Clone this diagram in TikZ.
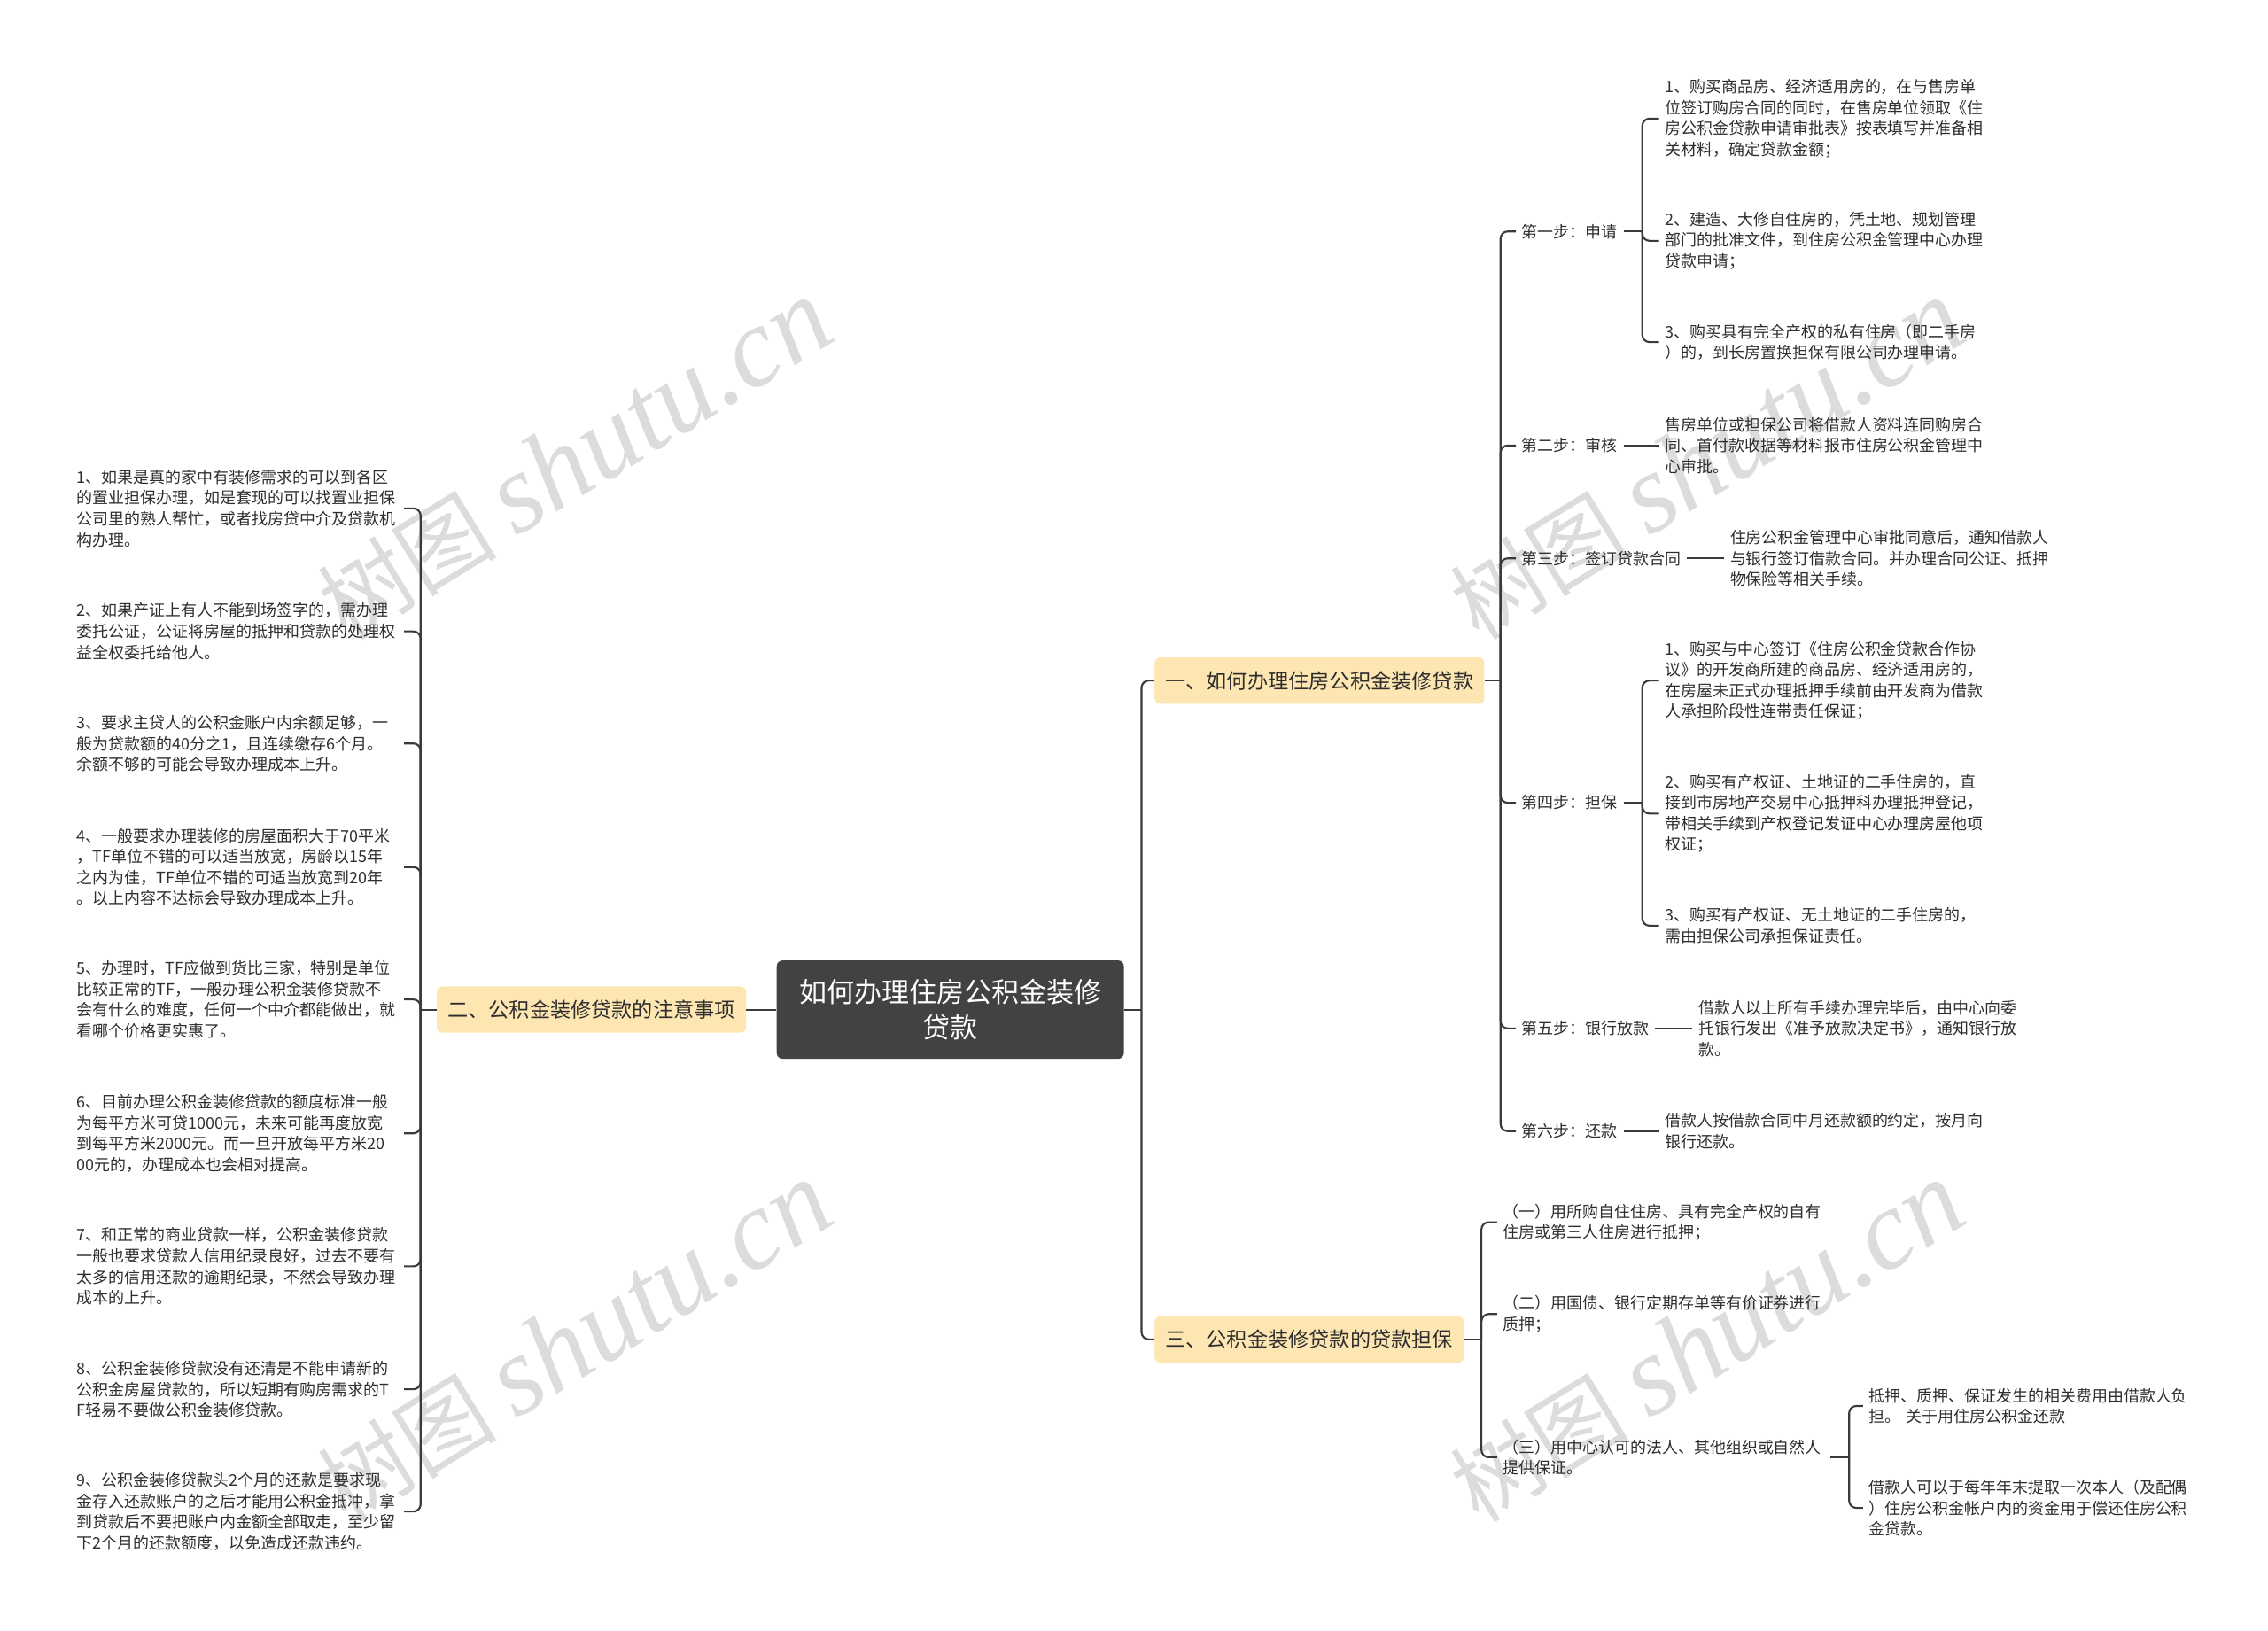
\documentclass[tikz,border=0pt]{standalone}
\usepackage{fontspec}
\setmainfont{Noto Sans CJK SC}
\newfontfamily\wmserif{Liberation Serif}
\definecolor{rootfill}{HTML}{424242}
\definecolor{lvfill}{HTML}{FDE6B2}
\definecolor{linec}{HTML}{3A3A3A}
\definecolor{txt}{HTML}{2E2E2E}
\definecolor{wm}{HTML}{DCDCDC}
\begin{document}
\begin{tikzpicture}[x=1pt,y=-1pt,
 conn/.style={draw=linec, line width=1.3pt},
 rc/.style={conn, rounded corners=5pt},
 rootbox/.style={fill=rootfill, rounded corners=4pt, minimum width=240pt, minimum height=68pt, text=white, font=\fontsize{19pt}{25pt}\selectfont, align=center, inner sep=0pt},
 lvbox/.style={fill=lvfill, rounded corners=4pt, minimum height=32pt, inner xsep=7.5pt, text=txt, font=\fontsize{14.2pt}{17pt}\selectfont},
 leaf/.style={text width=222pt, align=left, inner xsep=4pt, inner ysep=2pt, text=txt, font=\fontsize{11pt}{14.4pt}\selectfont},
 steplbl/.style={inner xsep=4pt, inner ysep=2pt, text=txt, font=\fontsize{11pt}{14.4pt}\selectfont},
 wmark/.style={text=wm, rotate=31.6, inner sep=0pt}
]
\useasboundingbox (0,0) rectangle (1568,1127);
\fill[white] (0,0) rectangle (1568,1127);

% watermarks
\node[wmark] (w1) at (397,318) {\fontsize{62pt}{62pt}\selectfont 树图 {\wmserif\itshape\fontsize{78pt}{78pt}\selectfont shutu.cn}};
\node[wmark] (w2) at (397,928) {\fontsize{62pt}{62pt}\selectfont 树图 {\wmserif\itshape\fontsize{78pt}{78pt}\selectfont shutu.cn}};
\node[wmark] (w3) at (1180,318) {\fontsize{62pt}{62pt}\selectfont 树图 {\wmserif\itshape\fontsize{78pt}{78pt}\selectfont shutu.cn}};
\node[wmark] (w4) at (1180,928) {\fontsize{62pt}{62pt}\selectfont 树图 {\wmserif\itshape\fontsize{78pt}{78pt}\selectfont shutu.cn}};

% root and level 1
\node[rootbox] (root) at (657,698) {如何办理住房公积金装修\\贷款};
\node[lvbox, anchor=west] (n1) at (798,470.5) {一、如何办理住房公积金装修贷款};
\node[lvbox, anchor=east] (n2) at (516,698) {二、公积金装修贷款的注意事项};
\node[lvbox, anchor=west] (n3) at (798,926) {三、公积金装修贷款的贷款担保};

% left leaves
\node[leaf, anchor=west] (L1) at (49,351.5) {1、如果是真的家中有装修需求的可以到各区\\的置业担保办理，如是套现的可以找置业担保\\公司里的熟人帮忙，或者找房贷中介及贷款机\\构办理。};
\node[leaf, anchor=west] (L2) at (49,436.5) {2、如果产证上有人不能到场签字的，需办理\\委托公证，公证将房屋的抵押和贷款的处理权\\益全权委托给他人。};
\node[leaf, anchor=west] (L3) at (49,514) {3、要求主贷人的公积金账户内余额足够，一\\般为贷款额的40分之1，且连续缴存6个月。\\余额不够的可能会导致办理成本上升。};
\node[leaf, anchor=west] (L4) at (49,599.5) {4、一般要求办理装修的房屋面积大于70平米\\，TF单位不错的可以适当放宽，房龄以15年\\之内为佳，TF单位不错的可适当放宽到20年\\。以上内容不达标会导致办理成本上升。};
\node[leaf, anchor=west] (L5) at (49,691) {5、办理时，TF应做到货比三家，特别是单位\\比较正常的TF，一般办理公积金装修贷款不\\会有什么的难度，任何一个中介都能做出，就\\看哪个价格更实惠了。};
\node[leaf, anchor=west] (L6) at (49,783.5) {6、目前办理公积金装修贷款的额度标准一般\\为每平方米可贷1000元，未来可能再度放宽\\到每平方米2000元。而一旦开放每平方米20\\00元的，办理成本也会相对提高。};
\node[leaf, anchor=west] (L7) at (49,875.5) {7、和正常的商业贷款一样，公积金装修贷款\\一般也要求贷款人信用纪录良好，过去不要有\\太多的信用还款的逾期纪录，不然会导致办理\\成本的上升。};
\node[leaf, anchor=west] (L8) at (49,960.5) {8、公积金装修贷款没有还清是不能申请新的\\公积金房屋贷款的，所以短期有购房需求的T\\F轻易不要做公积金装修贷款。};
\node[leaf, anchor=west] (L9) at (49,1045) {9、公积金装修贷款头2个月的还款是要求现\\金存入还款账户的之后才能用公积金抵冲，拿\\到贷款后不要把账户内金额全部取走，至少留\\下2个月的还款额度，以免造成还款违约。};

% steps
\node[steplbl, anchor=west] (s1) at (1048,160) {第一步：申请};
\node[steplbl, anchor=west] (s2) at (1048,308) {第二步：审核};
\node[steplbl, anchor=west] (s3) at (1048,386) {第三步：签订贷款合同};
\node[steplbl, anchor=west] (s4) at (1048,555) {第四步：担保};
\node[steplbl, anchor=west] (s5) at (1048,711) {第五步：银行放款};
\node[steplbl, anchor=west] (s6) at (1048,782) {第六步：还款};

\node[leaf, anchor=west] (a1) at (1147,82) {1、购买商品房、经济适用房的，在与售房单\\位签订购房合同的同时，在售房单位领取《住\\房公积金贷款申请审批表》按表填写并准备相\\关材料，确定贷款金额；};
\node[leaf, anchor=west] (a2) at (1147,166.5) {2、建造、大修自住房的，凭土地、规划管理\\部门的批准文件，到住房公积金管理中心办理\\贷款申请；};
\node[leaf, anchor=west] (a3) at (1147,236.5) {3、购买具有完全产权的私有住房（即二手房\\）的，到长房置换担保有限公司办理申请。};
\node[leaf, anchor=west] (b1) at (1147,308) {售房单位或担保公司将借款人资料连同购房合\\同、首付款收据等材料报市住房公积金管理中\\心审批。};
\node[leaf, anchor=west] (c1) at (1192,386) {住房公积金管理中心审批同意后，通知借款人\\与银行签订借款合同。并办理合同公证、抵押\\物保险等相关手续。};
\node[leaf, anchor=west] (e1) at (1147,470.5) {1、购买与中心签订《住房公积金贷款合作协\\议》的开发商所建的商品房、经济适用房的，\\在房屋未正式办理抵押手续前由开发商为借款\\人承担阶段性连带责任保证；};
\node[leaf, anchor=west] (e2) at (1147,562.5) {2、购买有产权证、土地证的二手住房的，直\\接到市房地产交易中心抵押科办理抵押登记，\\带相关手续到产权登记发证中心办理房屋他项\\权证；};
\node[leaf, anchor=west] (e3) at (1147,640) {3、购买有产权证、无土地证的二手住房的，\\需由担保公司承担保证责任。};
\node[leaf, anchor=west] (f1) at (1170,711) {借款人以上所有手续办理完毕后，由中心向委\\托银行发出《准予放款决定书》，通知银行放\\款。};
\node[leaf, anchor=west] (g1) at (1147,782) {借款人按借款合同中月还款额的约定，按月向\\银行还款。};

% section three
\node[leaf, anchor=west] (t1) at (1035,845) {（一）用所购自住住房、具有完全产权的自有\\住房或第三人住房进行抵押；};
\node[leaf, anchor=west] (t2) at (1035,908.5) {（二）用国债、银行定期存单等有价证券进行\\质押；};
\node[leaf, anchor=west] (t3) at (1035,1007.5) {（三）用中心认可的法人、其他组织或自然人\\提供保证。};
\node[leaf, anchor=west] (d1) at (1288,972) {抵押、质押、保证发生的相关费用由借款人负\\担。 关于用住房公积金还款};
\node[leaf, anchor=west] (d2) at (1288,1042.5) {借款人可以于每年年末提取一次本人（及配偶\\）住房公积金帐户内的资金用于偿还住房公积\\金贷款。};

% connectors: root
\draw[conn] (root.west) -- (n2.east);
\coordinate (rj) at ([xshift=12pt]root.east);
\draw[conn] (root.east) -- (rj);
\draw[rc] (rj) |- (n1.west);
\draw[rc] (rj) |- (n3.west);

% left
\coordinate (lj) at ([xshift=-11pt]n2.west);
\draw[conn] (n2.west) -- (lj);
\foreach \c in {L1,L2,L3,L4,L5,L6,L7,L8,L9} {\draw[rc] (lj) |- (\c.east);}

% section one
\coordinate (j1) at ([xshift=11pt]n1.east);
\draw[conn] (n1.east) -- (j1);
\foreach \c in {s1,s2,s3,s4,s5,s6} {\draw[rc] (j1) |- (\c.west);}

\coordinate (j11) at ([xshift=13pt]s1.east);
\draw[conn] (s1.east) -- (j11);
\foreach \c in {a1,a2,a3} {\draw[rc] (j11) |- (\c.west);}
\draw[conn] (s2.east) -- (b1.west);
\draw[conn] (s3.east) -- (c1.west);
\coordinate (j14) at ([xshift=13pt]s4.east);
\draw[conn] (s4.east) -- (j14);
\foreach \c in {e1,e2,e3} {\draw[rc] (j14) |- (\c.west);}
\draw[conn] (s5.east) -- (f1.west);
\draw[conn] (s6.east) -- (g1.west);

% section three
\coordinate (j3) at ([xshift=12pt]n3.east);
\draw[conn] (n3.east) -- (j3);
\foreach \c in {t1,t2,t3} {\draw[rc] (j3) |- (\c.west);}
\coordinate (j33) at ([xshift=13pt]t3.east);
\draw[conn] (t3.east) -- (j33);
\foreach \c in {d1,d2} {\draw[rc] (j33) |- (\c.west);}
\end{tikzpicture}
\end{document}
